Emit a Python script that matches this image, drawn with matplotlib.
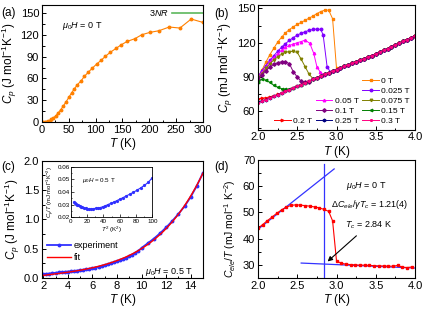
import numpy as np
import matplotlib
matplotlib.use('Agg')
import matplotlib.pyplot as plt
from matplotlib.ticker import AutoMinorLocator, MultipleLocator
from matplotlib.lines import Line2D

plt.rcParams['font.family'] = ['Liberation Sans', 'DejaVu Sans']
plt.rcParams['mathtext.fontset'] = 'custom'
plt.rcParams['mathtext.rm'] = 'Liberation Sans'
plt.rcParams['mathtext.it'] = 'Liberation Sans:italic'
plt.rcParams['mathtext.bf'] = 'Liberation Sans:bold'

# ---- (a) Cp vs T, 0 T ----
T_a = [2, 5, 8, 11, 14, 17, 21, 26, 30, 35, 40, 45, 50, 55, 60, 66, 73, 79, 86, 94,
       102, 110, 118, 127, 138, 148, 159, 173, 186, 201, 218, 237, 257, 278, 300]
Cp_a = [0.02, 0.1, 0.4, 1.0, 2.0, 3.5, 5.5, 8.7, 12.4, 16.9, 22.4, 27.9, 33.9, 39.9, 45.4,
        51.3, 56.8, 62.8, 68.3, 74.3, 79.8, 84.8, 90.3, 95.8, 101.3, 106.4, 111, 114.6,
        120.1, 123.3, 125.6, 130.7, 129.3, 141.7, 137]
N_atoms = 6
R_gas = 8.314
T_3nr = [243, 300]

# ---- (b) Cp vs T at low T, several fields ----
T_normal = [2.00, 2.05, 2.10, 2.15, 2.20, 2.25, 2.30, 2.35, 2.40, 2.45, 2.50, 2.55, 2.60, 2.65,
            2.70, 2.75, 2.80, 2.85, 2.90, 2.95, 3.00, 3.05, 3.10, 3.15, 3.20, 3.25, 3.30, 3.35,
            3.40, 3.45, 3.50, 3.55, 3.60, 3.65, 3.70, 3.75, 3.80, 3.85, 3.90, 3.95, 4.00]
Cp_normal = [67.0, 68.6, 70.0, 71.6, 73.0, 74.5, 76.1, 77.5, 79.0, 80.6, 82.0, 83.4, 85.0, 86.4,
             87.8, 89.3, 90.8, 92.2, 93.6, 95.1, 96.5, 97.8, 99.3, 100.6, 101.9, 103.4, 104.6,
             106.0, 107.4, 108.7, 110.1, 111.5, 113.3, 114.7, 116.5, 118.0, 119.5, 121.3, 122.7,
             124.5, 126.2]
fields = ['0 T', '0.025 T', '0.05 T', '0.075 T', '0.1 T', '0.15 T', '0.2 T', '0.25 T', '0.3 T']
T_sc = {
    '0 T': [2.00, 2.05, 2.10, 2.15, 2.20, 2.25, 2.30, 2.35, 2.40, 2.45, 2.50, 2.55, 2.60, 2.65,
            2.70, 2.75, 2.80, 2.85, 2.90, 2.95, 3.00],
    '0.025 T': [2.00, 2.05, 2.10, 2.15, 2.20, 2.25, 2.30, 2.35, 2.40, 2.45, 2.50, 2.55, 2.60,
                2.65, 2.70, 2.75, 2.80, 2.83, 2.88, 2.92],
    '0.05 T': [2.00, 2.05, 2.10, 2.15, 2.20, 2.25, 2.30, 2.35, 2.40, 2.45, 2.50, 2.55, 2.60,
               2.66, 2.71, 2.75, 2.79, 2.84],
    '0.075 T': [2.00, 2.05, 2.10, 2.15, 2.20, 2.25, 2.30, 2.35, 2.40, 2.45, 2.50, 2.55, 2.60,
                2.65, 2.70],
    '0.1 T': [2.00, 2.05, 2.10, 2.15, 2.20, 2.25, 2.30, 2.35, 2.40, 2.45, 2.50, 2.55, 2.60,
              2.65, 2.70],
    '0.15 T': [2.00, 2.05, 2.10, 2.15, 2.20, 2.25, 2.30, 2.35, 2.40, 2.45],
    '0.2 T': [2.00, 2.05, 2.10, 2.15, 2.20, 2.25],
    '0.25 T': [2.00, 2.05],
    '0.3 T': [],
}
Cp_sc = {
    '0 T': [90, 96, 103, 109.5, 115, 120.5, 124.8, 128.6, 131.5, 134, 136, 137.8, 139.6, 141.5,
            143.3, 145.5, 147.3, 148.5, 148.5, 141, 97.5],
    '0.025 T': [90.5, 95.5, 100, 104.5, 108.5, 112.5, 116, 119.2, 122, 124.5, 126.6, 128.3,
                129.6, 130.8, 131.6, 132, 131.6, 126.6, 99, 94.5],
    '0.05 T': [89.5, 94, 98.5, 103, 107, 110.5, 113.5, 115.8, 117.6, 118.8, 120, 121, 122.3,
               119.4, 110.6, 99, 94.5, 92],
    '0.075 T': [89, 93, 97.5, 101.5, 104.8, 107.5, 110, 111.5, 112.2, 112.3, 111.5, 105.5, 99,
                92.5, 88.5],
    '0.1 T': [88.5, 92, 95.5, 98.5, 101, 102.5, 103.3, 103.5, 101.5, 94.5, 90, 86.2, 85.8, 86,
              88],
    '0.15 T': [85.8, 88, 87.3, 85.2, 82.8, 81, 79.8, 79.2, 79.5, 80.5],
    '0.2 T': [71, 71.2, 71.8, 72.6, 73.6, 74.8],
    '0.25 T': [68, 69.2],
    '0.3 T': [],
}
colors_b = ['#FF8000', '#8000FF', '#FF00FF', '#808000', '#800080', '#008000', '#FF0000',
            '#000080', '#FF0080']
markers_b = ['s', 'o', '^', 'v', 'D', '<', '>', 'h', '*']

# ---- (c) Cp at 0.5 T ----
T_c = [2.00, 2.25, 2.50, 2.75, 3.00, 3.25, 3.50, 3.75, 4.00, 4.25, 4.50, 4.75, 5.00, 5.25,
       5.50, 5.75, 6.00, 6.25, 6.50, 6.75, 7.00, 7.25, 7.50, 7.75, 8.00, 8.25, 8.50, 8.75,
       9.00, 9.25, 9.50, 9.75, 10.0, 10.5, 11.0, 11.5, 12.0, 12.5, 13.0, 13.5, 14.0, 14.5, 15.0]
Cp_c = [0.064, 0.070, 0.076, 0.082, 0.088, 0.094, 0.099, 0.105, 0.110, 0.115, 0.120, 0.126,
        0.133, 0.141, 0.149, 0.157, 0.166, 0.177, 0.189, 0.203, 0.217, 0.232, 0.248, 0.266,
        0.284, 0.304, 0.325, 0.347, 0.372, 0.399, 0.429, 0.464, 0.512, 0.59, 0.67, 0.76,
        0.86, 0.97, 1.09, 1.22, 1.38, 1.57, 1.79]

# ---- (d) C_ele/T ----
T_d = [2.00, 2.06, 2.12, 2.18, 2.24, 2.30, 2.36, 2.42, 2.48, 2.54, 2.60, 2.66, 2.72, 2.78,
       2.84, 2.90, 2.95, 3.00, 3.06, 3.12, 3.18, 3.24, 3.30, 3.36, 3.42, 3.48, 3.54, 3.60,
       3.66, 3.72, 3.78, 3.84, 3.90, 3.96]
Cel_d = [44.0, 45.4, 46.9, 48.3, 49.7, 51.0, 52.0, 52.7, 52.9, 52.8, 52.6, 52.4, 52.1, 51.7,
         51.2, 50.4, 46.8, 31.5, 30.6, 30.3, 30.1, 30.0, 29.9, 29.9, 29.8, 29.7, 29.6, 29.6,
         29.5, 29.5, 29.8, 29.1, 29.0, 29.2]
Tc = 2.84
sc_line_T = [2.0, 2.97]
sc_line_C = [43.6, 66.6]
n_line_T = [2.55, 4.0]
n_line_C = [30.7, 28.8]


def style(ax, xmaj, ymaj):
    ax.xaxis.set_major_locator(MultipleLocator(xmaj))
    ax.yaxis.set_major_locator(MultipleLocator(ymaj))
    ax.xaxis.set_minor_locator(AutoMinorLocator(2))
    ax.yaxis.set_minor_locator(AutoMinorLocator(2))
    ax.tick_params(which='both', direction='in', top=False, right=False, width=0.7,
                   labelsize=8, pad=2)
    ax.tick_params(which='major', length=3)
    ax.tick_params(which='minor', length=1.8)
    for s in ax.spines.values():
        s.set_linewidth(0.8)


fig = plt.figure(figsize=(4.25, 3.11), dpi=100)

# (a)
ax1 = fig.add_axes([0.0988, 0.6077, 0.3788, 0.3762])
ax1.plot(T_a, Cp_a, '-o', color='#FF8000', ms=1.8, lw=0.8)
ax1.plot(T_3nr, [3 * N_atoms * R_gas] * 2, color='#5CB85C', lw=1.2)
ax1.text(236, 3 * N_atoms * R_gas, '3$\\it{NR}$', fontsize=6.5, ha='right', va='center')
ax1.text(37, 132, '$\\mu_0H$ = 0 T', fontsize=6.5, va='center')
ax1.set_xlim(0, 300)
ax1.set_ylim(0, 161)
style(ax1, 50, 30)
ax1.set_xlabel('$T$ (K)', fontsize=8.5, labelpad=1)
ax1.set_ylabel('$C_p$ (J mol$^{-1}$K$^{-1}$)', fontsize=8.5, labelpad=1)

# (b)
ax2 = fig.add_axes([0.6071, 0.5836, 0.3694, 0.4003])
handles = {}
for f, c, m in zip(fields, colors_b, markers_b):
    t_low = T_sc[f]
    t_end = t_low[-1] if t_low else 0
    tt = t_low + [t for t in T_normal if t > t_end + 1e-6]
    cc = Cp_sc[f] + [v for t, v in zip(T_normal, Cp_normal) if t > t_end + 1e-6]
    handles[f], = ax2.plot(tt, cc, '-', marker=m, color=c, ms=1.8, lw=0.7, label=f)
blank = Line2D([], [], linestyle='none', marker='none')
leg_h = [blank, blank, blank, blank, handles['0.2 T'],
         blank, blank, handles['0.05 T'], handles['0.1 T'], handles['0.25 T'],
         handles['0 T'], handles['0.025 T'], handles['0.075 T'], handles['0.15 T'], handles['0.3 T']]
leg_l = ['', '', '', '', '0.2 T', '', '', '0.05 T', '0.1 T', '0.25 T',
         '0 T', '0.025 T', '0.075 T', '0.15 T', '0.3 T']
ax2.legend(leg_h, leg_l, ncol=3, loc='lower right', fontsize=6, frameon=False,
           handlelength=2.0, handletextpad=0.3, columnspacing=0.4, labelspacing=0.25,
           borderaxespad=0.2)
ax2.set_xlim(2.0, 4.0)
ax2.set_ylim(44, 153)
style(ax2, 0.5, 30)
ax2.set_xlabel('$T$ (K)', fontsize=8.5, labelpad=1)
ax2.set_ylabel('$C_p$ (mJ mol$^{-1}$K$^{-1}$)', fontsize=8.5, labelpad=1)

# (c)
ax3 = fig.add_axes([0.0988, 0.1061, 0.3788, 0.3778])
T_c_arr = np.array(T_c)
Cp_c_arr = np.array(Cp_c)
basis = np.vstack([T_c_arr, T_c_arr ** 3, T_c_arr ** 5]).T
coef = np.linalg.lstsq(basis, Cp_c_arr, rcond=None)[0]
T_fit = np.linspace(T_c_arr.min(), T_c_arr.max(), 200)
Cp_fit = coef[0] * T_fit + coef[1] * T_fit ** 3 + coef[2] * T_fit ** 5
ax3.plot(T_c, Cp_c, '-o', color='#3030FF', ms=1.8, lw=1.3, label='experiment')
ax3.plot(T_fit, Cp_fit, '-', color='#FF0000', lw=1.0, label='fit')
ax3.legend(loc='lower left', bbox_to_anchor=(0.0, 0.09), fontsize=6.5, frameon=False,
           handlelength=2.6, handletextpad=0.3, labelspacing=0.3, borderaxespad=0.2)
ax3.text(10.3, 0.1, '$\\mu_0H$ = 0.5 T', fontsize=6.5, va='center')
ax3.set_xlim(1.9, 15)
ax3.set_ylim(0, 2.0)
style(ax3, 2, 0.5)
ax3.yaxis.set_major_formatter(matplotlib.ticker.FormatStrFormatter('%.1f'))
ax3.set_xlabel('$T$ (K)', fontsize=8.5, labelpad=1)
ax3.set_ylabel('$C_p$ (J mol$^{-1}$K$^{-1}$)', fontsize=8.5, labelpad=1)

# inset
axi = fig.add_axes([0.167, 0.3013, 0.1913, 0.163])
mask = T_c_arr <= 10.0
axi.plot(T_c_arr[mask] ** 2, Cp_c_arr[mask] / T_c_arr[mask], '-o', color='#3030FF',
         ms=1.3, lw=0.8)
axi.text(13, 0.049, '$\\mu_0H$ = 0.5 T', fontsize=4.5, va='center')
axi.set_xlim(0, 100)
axi.set_ylim(0.02, 0.06)
axi.xaxis.set_major_locator(MultipleLocator(20))
axi.yaxis.set_major_locator(MultipleLocator(0.01))
axi.xaxis.set_minor_locator(AutoMinorLocator(2))
axi.yaxis.set_minor_locator(AutoMinorLocator(2))
axi.tick_params(which='both', direction='in', top=False, right=False, labelsize=4.5,
                width=0.5, pad=1)
axi.tick_params(which='major', length=2)
axi.tick_params(which='minor', length=1)
for s in axi.spines.values():
    s.set_linewidth(0.6)
axi.set_xlabel('$T^2$ (K$^2$)', fontsize=4.5, labelpad=1)
axi.set_ylabel('$C_p/T$ (mJ mol$^{-1}$K$^{-2}$)', fontsize=4.2, labelpad=1)

# (d)
ax4 = fig.add_axes([0.6071, 0.1061, 0.3694, 0.3794])
ax4.plot(sc_line_T, sc_line_C, color='#3333FF', lw=0.9)
ax4.plot(n_line_T, n_line_C, color='#3333FF', lw=0.9)
ax4.plot([Tc, Tc], [25, 68.5], color='#3333FF', lw=0.9)
ax4.plot(T_d, Cel_d, '-s', color='#FF0000', ms=1.9, lw=0.8)
ax4.text(3.38, 60, '$\\mu_0H$ = 0 T', fontsize=6.5, ha='center', va='center')
ax4.text(3.42, 53, '$\\Delta C_{ele}/\\gamma T_c$ = 1.21(4)', fontsize=6.5, ha='center',
         va='center')
ax4.text(3.41, 45, '$T_c$ = 2.84 K', fontsize=6.5, ha='center', va='center')
ax4.annotate('', xy=(Tc + 0.02, 30.6), xytext=(3.28, 41.8),
             arrowprops=dict(arrowstyle='-|>', color='black', lw=0.8, mutation_scale=7))
ax4.set_xlim(2.0, 4.0)
ax4.set_ylim(25, 70)
style(ax4, 0.5, 10)
ax4.set_xlabel('$T$ (K)', fontsize=8.5, labelpad=1)
ax4.set_ylabel('$C_{ele}/T$ (mJ mol$^{-1}$ K$^{-2}$)', fontsize=7.5, labelpad=1)
ax4.yaxis.set_label_coords(-0.13, 0.42)

# panel labels
fig.text(0.003, 0.957, '(a)', fontsize=8.5, va='center')
fig.text(0.503, 0.955, '(b)', fontsize=8.5, va='center')
fig.text(0.003, 0.462, '(c)', fontsize=8.5, va='center')
fig.text(0.503, 0.462, '(d)', fontsize=8.5, va='center')

fig.savefig('out.png', dpi=100)
